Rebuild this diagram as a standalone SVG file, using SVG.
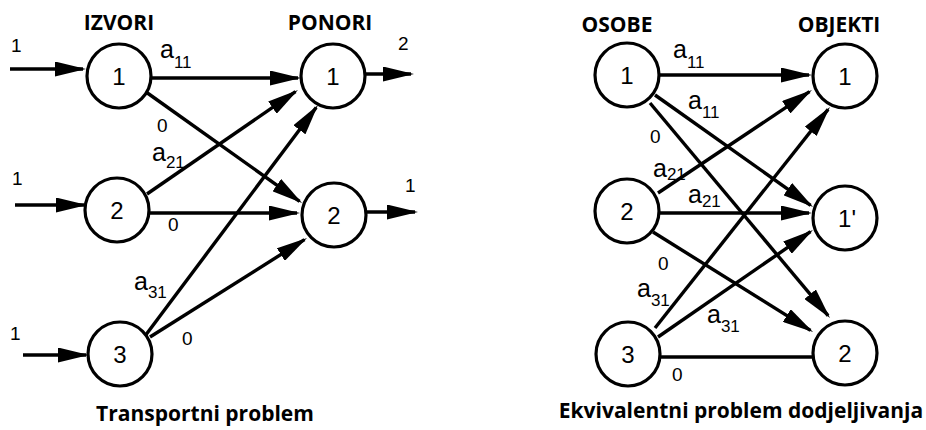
<svg xmlns="http://www.w3.org/2000/svg" width="926" height="430" viewBox="0 0 926 430">
<style>
.node circle{fill:#fff;stroke:#000;stroke-width:3.2}
.node text{font-family:"Liberation Sans",Arial,sans-serif;font-size:24px;text-anchor:middle;fill:#000}
.edges line{stroke:#000;stroke-width:3.4;fill:none}
.arr{marker-end:url(#ah)}
.lbl{font-family:"Liberation Sans",Arial,sans-serif;fill:#000}
.a{font-size:25px}
.sub{font-size:17px}
.z{font-size:19px}
.hd{font-family:"Open Sans","DejaVu Sans",sans-serif;font-weight:700;font-size:21px;text-anchor:middle;fill:#000}
</style>
<defs>
<marker id="ah" markerUnits="userSpaceOnUse" markerWidth="31" markerHeight="15" refX="28" refY="7.5" orient="auto" viewBox="0 0 31 15">
<path d="M0,0 L31,7.5 L0,15 z" fill="#000"/>
</marker>
</defs>
<rect width="926" height="430" fill="#fff"/>

<!-- headings -->
<text class="hd" x="119" y="30">IZVORI</text>
<text class="hd" x="330" y="30">PONORI</text>
<text class="hd" x="617" y="32">OSOBE</text>
<text class="hd" x="839" y="32">OBJEKTI</text>
<text class="hd" x="205" y="421">Transportni problem</text>
<text class="hd" x="741" y="418">Ekvivalentni problem dodjeljivanja</text>

<g id="connectors" class="edges">
<!-- left inputs/outputs -->
<line class="arr" x1="10" y1="69" x2="83" y2="69"/>
<line class="arr" x1="15" y1="205" x2="84" y2="205"/>
<line class="arr" x1="23" y1="355" x2="86" y2="355"/>
<line class="arr" x1="364" y1="74" x2="411" y2="74"/>
<line class="arr" x1="366" y1="212" x2="415" y2="212"/>
<!-- left edges -->
<line class="arr" x1="150" y1="78" x2="298" y2="78"/>
<line class="arr" x1="146" y1="92" x2="299.6" y2="201.3"/>
<line class="arr" x1="147" y1="194" x2="295.5" y2="91.7"/>
<line class="arr" x1="149" y1="213" x2="297" y2="213"/>
<line class="arr" x1="145" y1="336" x2="316.2" y2="107.4"/>
<line class="arr" x1="150" y1="337" x2="304.5" y2="239.6"/>
<!-- right edges -->
<line class="arr" x1="658" y1="75" x2="809" y2="75"/>
<line class="arr" x1="655" y1="95" x2="810.6" y2="205.3"/>
<line class="arr" x1="650" y1="103" x2="828.1" y2="315.7"/>
<line class="arr" x1="658" y1="193" x2="809.5" y2="91.7"/>
<line class="arr" x1="658" y1="213" x2="809" y2="213"/>
<line class="arr" x1="653" y1="232" x2="810.5" y2="330.4"/>
<line class="arr" x1="655" y1="328" x2="828.1" y2="109.4"/>
<line class="arr" x1="658" y1="337" x2="810.5" y2="231.7"/>
<line x1="659" y1="357" x2="814" y2="357"/>
</g>

<!-- left nodes -->
<g id="izvor1" class="node"><circle cx="119" cy="76" r="32"/><text x="119" y="85">1</text></g>
<g id="izvor2" class="node"><circle cx="117" cy="210" r="32"/><text x="117" y="219">2</text></g>
<g id="izvor3" class="node"><circle cx="120" cy="354" r="32"/><text x="120" y="363">3</text></g>
<g id="ponor1" class="node"><circle cx="333" cy="76" r="32"/><text x="333" y="85">1</text></g>
<g id="ponor2" class="node"><circle cx="334" cy="215" r="32"/><text x="334" y="224">2</text></g>
<!-- right nodes -->
<g id="osoba1" class="node"><circle cx="627" cy="75" r="32"/><text x="627" y="84">1</text></g>
<g id="osoba2" class="node"><circle cx="627" cy="211" r="32"/><text x="627" y="220">2</text></g>
<g id="osoba3" class="node"><circle cx="628" cy="354" r="32"/><text x="628" y="363">3</text></g>
<g id="objekt1" class="node"><circle cx="845" cy="76" r="32"/><text x="845" y="85">1</text></g>
<g id="objekt1p" class="node"><circle cx="845" cy="218" r="32"/><text x="847" y="227">1'</text></g>
<g id="objekt2" class="node"><circle cx="845" cy="353" r="32"/><text x="845" y="362">2</text></g>

<!-- labels -->
<g class="lbl">
<text class="z" x="11" y="52">1</text>
<text class="z" x="12" y="185">1</text>
<text class="z" x="10" y="340">1</text>
<text class="z" x="398" y="50">2</text>
<text class="z" x="405" y="192">1</text>
<text x="160" y="58"><tspan class="a">a</tspan><tspan class="sub" dy="10">11</tspan></text>
<text class="z" x="157" y="132">0</text>
<text x="152" y="161"><tspan class="a">a</tspan><tspan class="sub" dy="7">21</tspan></text>
<text class="z" x="168" y="231">0</text>
<text x="134" y="290"><tspan class="a">a</tspan><tspan class="sub" dy="8">31</tspan></text>
<text class="z" x="182" y="345">0</text>
<text x="673" y="58"><tspan class="a">a</tspan><tspan class="sub" dy="10">11</tspan></text>
<text x="688" y="109"><tspan class="a">a</tspan><tspan class="sub" dy="9">11</tspan></text>
<text class="z" x="650" y="143">0</text>
<text x="653" y="177"><tspan class="a">a</tspan><tspan class="sub" dy="3">21</tspan></text>
<text x="688" y="203"><tspan class="a">a</tspan><tspan class="sub" dy="4">21</tspan></text>
<text class="z" x="658" y="270">0</text>
<text x="637" y="297"><tspan class="a">a</tspan><tspan class="sub" dy="9">31</tspan></text>
<text x="707" y="323"><tspan class="a">a</tspan><tspan class="sub" dy="9">31</tspan></text>
<text class="z" x="672" y="381">0</text>
</g>
</svg>
